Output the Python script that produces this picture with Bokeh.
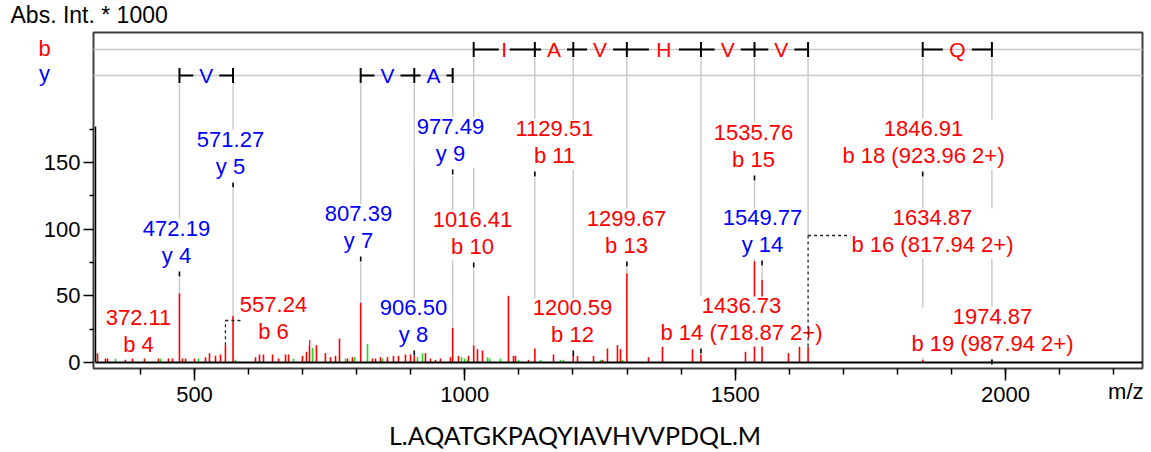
from bokeh.plotting import figure
from bokeh.models import FixedTicker, Label, Range1d, ColumnDataSource, LinearAxis
from bokeh.core.properties import value
from bokeh.embed import file_html
from bokeh.resources import INLINE

# ---------------- data ----------------
ion_mz = [372.11, 472.19, 557.24, 571.27, 807.39, 906.50, 977.49, 1016.41, 1129.51,
          1200.59, 1299.67, 1436.73, 1535.76, 1549.77, 1634.87, 1846.91, 1974.87]
ion_int = [2, 52, 13, 35, 45, 5, 26, 13, 13, 6, 67, 6, 76, 62, 12, 2, 2]
ion_name = ["b 4", "y 4", "b 6", "y 5", "y 7", "y 8", "y 9", "b 10", "b 11", "b 12", "b 13",
            "b 14 (718.87 2+)", "b 15", "y 14", "b 16 (817.94 2+)", "b 18 (923.96 2+)",
            "b 19 (987.94 2+)"]
ion_type = ["b", "y", "b", "y", "y", "y", "y", "b", "b", "b", "b", "b", "b", "y", "b", "b", "b"]

# label anchors: centre m/z and intensity of the first text line's baseline
label_mz = [396.4, 466.7, 646.1, 566.6, 803.3, 905.0, 973.5, 1014.2, 1165.8,
            1199.1, 1299.0, 1511.7, 1533.9, 1550.5, 1864.9, 1848.3, 1975.9]
label_int = [27.0, 93.75, 36.75, 160.5, 105.0, 34.5, 170.25, 100.5, 168.75,
             34.5, 101.25, 36.0, 165.75, 102.0, 102.0, 168.75, 27.75]

# dashed leader lines (ion m/z -> corner intensity, end m/z)
leader_ion = [557.24, 1634.87]
leader_corner = [31.5, 95.25]
leader_end = [585.1, 1713.3]
no_marker = [372.11]

ladder_b = [[1016.41, 1129.51, 1200.59, 1299.67, 1436.73, 1535.76, 1634.87], [1846.91, 1974.87]]
ladder_b_res = [["I", "A", "V", "H", "V", "V"], ["Q"]]
ladder_y = [[472.19, 571.27], [807.39, 906.50, 977.49]]
ladder_y_res = [["V"], ["V", "A"]]

red_mz = [320.6, 335.4, 339.1, 385.3, 407.5, 433.4, 451.9, 459.3, 477.8, 483.4, 500.0, 520.3,
          527.7, 538.8, 548.1, 612.8, 620.2, 627.6, 644.3, 655.4, 668.3, 673.9, 699.7, 707.1,
          712.7, 725.6, 742.1, 751.5, 760.8, 768.2, 783.0, 792.2, 829.2, 834.8, 844.0, 857.0,
          868.0, 877.3, 890.2, 899.5, 927.2, 936.5, 945.7, 955.0, 973.5, 988.3, 1006.8, 1023.4,
          1032.7, 1080.7, 1090.0, 1093.7, 1117.7, 1164.0, 1208.4, 1238.0, 1254.6, 1263.8,
          1282.3, 1287.9, 1339.7, 1365.6, 1421.1, 1519.1, 1598.6, 1619.0]
red_int = [7, 6, 18, 4, 4, 5, 6, 7, 3, 3, 3, 4,
           7, 5, 6, 4, 6, 6, 6, 3, 6, 6, 5, 8,
           17, 13, 7, 4, 5, 18, 3, 4, 3, 3, 4, 4,
           5, 5, 6, 6, 7, 3, 2, 3, 4, 5, 5, 10,
           9, 50, 5, 5, 2, 6, 5, 5, 2, 25,
           13, 10, 4, 12, 10, 8, 7, 12]

green_mz = [353.9, 437.1, 507.4, 575.8, 683.1, 718.2, 779.3, 796.0, 820.0, 847.7, 912.4, 921.7,
            993.8, 999.4, 1005.0, 1042.0, 1046.0, 1066.0, 1099.2, 1140.0, 1177.0, 1182.5,
            1250.9, 1291.6]
green_int = [3, 3, 3, 2, 3, 11, 3, 4, 14, 3, 4, 7,
             4, 3, 2, 4, 3, 3, 2, 2, 2, 2,
             2, 2]

x_ticks = [500, 1000, 1500, 2000]
x_minor = [400, 500, 600, 700, 800, 900, 1000, 1100, 1200, 1300, 1400, 1500, 1600, 1700,
           1800, 1900, 2000, 2100, 2200]
y_ticks = [0, 50, 100, 150]
y_minor = [25, 75, 125, 175]
sequence = "L.AQATGKPAQYIAVHVVPDQL.M"

# ---------------- layout ----------------
W, H = 1151, 452
FL, FR, FT, FB = 93, 1142, 32, 368          # plot box in canvas pixels
BX0, BX1 = 313.2, 2253.4                     # m/z at box left / right
BY0, BY1 = -4.5, 247.5                       # intensity at box bottom / top
SX = (BX1 - BX0) / (FR - FL)
SY = (BY1 - BY0) / (FB - FT)
ROW_B = 234.75
ROW_Y = 215.25
LINE2 = 27 * SY
MID = 9 * SY      # baseline -> text middle
LABEL_PX = 22


def XC(c):
    return BX0 + (c - FL) * SX


def YC(c):
    return BY1 - (c - FT) * SY


CHAR_EM = {".": 0.278, " ": 0.278, "(": 0.333, ")": 0.333, "+": 0.584, "b": 0.556, "y": 0.5}


def text_px(s):
    return sum(CHAR_EM.get(ch, 0.556) for ch in s) * LABEL_PX


FONT = "Liberation Sans"
RED = "#ff0000"
BLUE = "#0000ff"
GRAY = "#c8c8c8"
GREEN = "#19e019"

p = figure(width=W, height=H, x_range=Range1d(XC(0), XC(W)), y_range=Range1d(YC(H), YC(0)),
           output_backend="svg", toolbar_location=None, x_axis_location=None,
           y_axis_location=None, min_border=0, min_border_left=0, min_border_right=0,
           min_border_top=0, min_border_bottom=0)
p.title.visible = False
p.xgrid.visible = False
p.ygrid.visible = False
p.outline_line_color = None
p.background_fill_color = "white"
p.border_fill_color = "white"

xa = LinearAxis(fixed_location=YC(FB))
ya = LinearAxis(fixed_location=XC(FL))
for ax, tk, mn, out, mout, sd in ((xa, x_ticks, x_minor, 12, 6, 6),
                                  (ya, y_ticks, y_minor, 10, 4, 3)):
    ax.ticker = FixedTicker(ticks=tk, minor_ticks=mn)
    ax.axis_line_color = None
    ax.major_tick_out = out
    ax.major_tick_in = 0
    ax.minor_tick_out = mout
    ax.minor_tick_in = 0
    ax.major_tick_line_width = 1.5
    ax.minor_tick_line_width = 1.5
    ax.major_tick_line_color = "black"
    ax.minor_tick_line_color = "black"
    ax.major_label_text_font = FONT
    ax.major_label_text_font_size = "22px"
    ax.major_label_text_color = "black"
    ax.major_label_standoff = sd
p.add_layout(xa, "below")
p.add_layout(ya, "left")

# plot box
p.quad(left=[XC(FL)], right=[XC(FR)], bottom=[YC(FB)], top=[YC(FT)], fill_color=None,
       line_color="#404040", line_width=2)

# ladder row lines
p.segment(x0=[XC(FL), XC(FL)], y0=[ROW_B, ROW_Y], x1=[XC(FR), XC(FR)], y1=[ROW_B, ROW_Y],
          line_color=GRAY, line_width=1.5)

# peaks
p.segment(x0=red_mz, y0=[0] * len(red_mz), x1=red_mz, y1=red_int, line_color=RED, line_width=1.6)
p.segment(x0=green_mz, y0=[0] * len(green_mz), x1=green_mz, y1=green_int, line_color=GREEN,
          line_width=1.6)
p.segment(x0=ion_mz, y0=[0] * len(ion_mz), x1=ion_mz, y1=ion_int, line_color=RED, line_width=1.6)

# gray annotation lines
in_b = {m for grp in ladder_b for m in grp}
in_y = {m for grp in ladder_y for m in grp}
gx, gy0, gy1 = [], [], []
dx, dy0, dy1 = [], [], []
for m, it, lm, li in zip(ion_mz, ion_int, label_mz, label_int):
    top = None
    if m in in_b:
        top = ROW_B - 8 * SY
    elif m in in_y:
        top = ROW_Y - 8 * SY
    if m in leader_ion:
        k = leader_ion.index(m)
        if top is not None:
            gx.append(m); gy0.append(top); gy1.append(leader_corner[k])
        continue
    if top is not None:
        gx.append(m); gy0.append(top); gy1.append(li + 14)
    if m in no_marker:
        continue
    d0 = li - LINE2 - 7 * SY
    d1 = li - LINE2 - 12 * SY
    dx.append(m); dy0.append(d0); dy1.append(d1)
    low = li - LINE2 - 13 * SY
    if low > it:
        gx.append(m); gy0.append(low); gy1.append(it)
p.segment(x0=gx, y0=gy0, x1=gx, y1=gy1, line_color=GRAY, line_width=1.4)

# white boxes behind the ion labels (hide the lines behind them)
line1 = [f"{m:.2f}" for m in ion_mz]
box_w = [(max(text_px(a), text_px(b)) + 4) * SX for a, b in zip(line1, ion_name)]
p.rect(x=label_mz, y=[v - 7 * SY for v in label_int], width=box_w,
       height=[50 * SY] * len(label_mz), fill_color="white", line_color=None)

# baseline and inner y line
p.segment(x0=[XC(FL + 2)], y0=[0], x1=[XC(FR)], y1=[0], line_color="black", line_width=2)
p.segment(x0=[XC(FL + 2)], y0=[0], x1=[XC(FL + 2)], y1=[177], line_color="black", line_width=1.5)

# ion labels
cols = [BLUE if t == "y" else RED for t in ion_type]
src1 = ColumnDataSource(dict(x=label_mz, y=[v + MID for v in label_int], t=line1, c=cols))
src2 = ColumnDataSource(dict(x=label_mz, y=[v - LINE2 + MID for v in label_int],
                             t=ion_name, c=cols))
for src in (src1, src2):
    p.text(x="x", y="y", text="t", source=src, text_color="c", text_font=value(FONT),
           text_font_size=f"{LABEL_PX}px", text_align="center", text_baseline="middle")

# black markers below labels
p.segment(x0=dx, y0=dy0, x1=dx, y1=dy1, line_color="black", line_width=1.6)

# dashed leaders
lx0, ly0, lx1, ly1 = [], [], [], []
for m, c, e in zip(leader_ion, leader_corner, leader_end):
    it = ion_int[ion_mz.index(m)]
    lx0 += [m, m]; ly0 += [it, c]; lx1 += [m, e]; ly1 += [c, c]
p.segment(x0=lx0, y0=ly0, x1=lx1, y1=ly1, line_color="#222222", line_width=1.3, line_dash="3 3")

# ladder brackets
GAP = {"I": 5.5, "A": 13, "V": 13, "H": 15, "Q": 14.5}
bx0, by0, bx1, by1 = [], [], [], []
tx, ty, tt, tc = [], [], [], []
for groups, residues, row, col in ((ladder_b, ladder_b_res, ROW_B, RED),
                                   (ladder_y, ladder_y_res, ROW_Y, BLUE)):
    for grp, res in zip(groups, residues):
        for m in grp:
            bx0.append(m); bx1.append(m); by0.append(row - 7.5 * SY); by1.append(row + 7.5 * SY)
        for a, b, r in zip(grp[:-1], grp[1:], res):
            mid = (a + b) / 2
            g = GAP[r] * SX
            bx0 += [a, mid + g]; bx1 += [mid - g, b]; by0 += [row, row]; by1 += [row, row]
            tx.append(mid); ty.append(row); tt.append(r); tc.append(col)
p.segment(x0=bx0, y0=by0, x1=bx1, y1=by1, line_color="black", line_width=2)
p.text(x=tx, y=ty, text=tt, text_color=tc, text_font=value(FONT), text_font_size="21px",
       text_align="center", text_baseline="middle")

# texts around the box
p.add_layout(Label(x=XC(10), y=YC(14), text="Abs. Int. * 1000", text_font=FONT,
                   text_font_size="23px", text_align="left", text_baseline="middle",
                   text_color="black"))
p.add_layout(Label(x=XC(44), y=YC(48), text="b", text_font=FONT, text_font_size="22px",
                   text_align="center", text_baseline="middle", text_color=RED))
p.add_layout(Label(x=XC(44), y=YC(73), text="y", text_font=FONT, text_font_size="22px",
                   text_align="center", text_baseline="middle", text_color=BLUE))
p.add_layout(Label(x=XC(1143), y=YC(391), text="m/z", text_font=FONT, text_font_size="22px",
                   text_align="right", text_baseline="middle", text_color="black"))
p.add_layout(Label(x=XC(574.5), y=YC(434), text=sequence, text_font="Lato",
                   text_font_size="25px", text_align="center", text_baseline="middle",
                   text_color="black"))

open("out.html", "w").write(file_html(p, INLINE))
